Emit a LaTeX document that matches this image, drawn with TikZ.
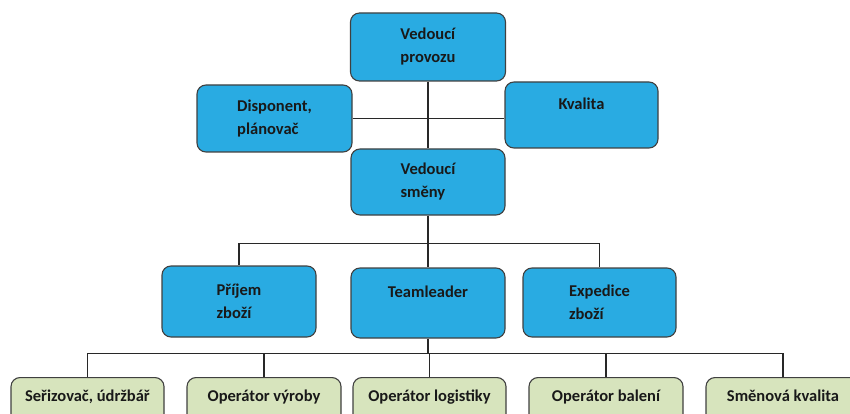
\documentclass[tikz,border=0pt]{standalone}
\usepackage{fontspec}
\setmainfont{Carlito}
\usepackage{tikz}
\usetikzlibrary{positioning}
\definecolor{boxblue}{RGB}{41,171,226}
\definecolor{boxgreen}{RGB}{215,228,189}
\definecolor{boxline}{RGB}{64,64,64}
\definecolor{conn}{RGB}{40,40,40}

\begin{document}
\begin{tikzpicture}[x=1pt,y=-1pt,
  blok/.style={draw=boxline,line width=1.1pt,rounded corners=9pt,fill=boxblue,
    minimum width=154pt,minimum height=68pt,inner sep=0pt,align=left,
    font=\bfseries\fontsize{16.5}{23}\selectfont,text=black!90},
  zelbox/.style={blok,fill=boxgreen,anchor=north,minimum height=0pt,
    text height=19.5pt,text depth=30pt,inner ysep=4pt},
  spoj/.style={draw=conn,line width=1.1pt}]
\useasboundingbox(0,0)rectangle(850,414);
\clip(0,0)rectangle(850,414);
% vedeni
\node[blok,minimum width=155pt](vp) at (428,47){Vedoucí\\provozu};
\node[blok,minimum width=155pt,minimum height=67pt](disp) at (274.5,118.5){Disponent,\\plánovač};
\node[blok,minimum width=153pt,minimum height=66pt](kval) at (581.5,115){Kvalita\\~};
\node[blok,minimum height=66pt](vs) at (428,182){Vedoucí\\směny};
% smena
\node[blok,minimum height=71pt](prij) at (239,301.5){Příjem\\zboží};
\node[blok,minimum height=70pt](tl) at (428,303){Teamleader\\~};
\node[blok,minimum width=153pt,minimum height=69pt](exp) at (599.5,302.5){Expedice\\zboží};
% operatori
\node[zelbox,minimum width=153pt](ser) at (87.5,377){Seřizovač, údržbář};
\node[zelbox](vyr) at (264,377){Operátor výroby};
\node[zelbox,minimum width=153pt](log) at (429.5,377){Operátor logistiky};
\node[zelbox](bal) at (606,377){Operátor balení};
\node[zelbox](smk) at (783,377){Směnová kvalita};
% spojnice
\draw[spoj](vp)--(vs);
\draw[spoj](disp.east)--(kval.west|-disp.east);
\draw[spoj](vs.south)--++(0,28)coordinate(busA);
\draw[spoj](busA)-|(prij.north);
\draw[spoj](busA)-|(exp.north);
\draw[spoj](busA)--(tl.north);
\draw[spoj](tl.south)--++(0,15)coordinate(busB);
\foreach \n in {ser,vyr,log,bal,smk}
  \draw[spoj](busB)-|(\n.north);
\end{tikzpicture}
\end{document}
